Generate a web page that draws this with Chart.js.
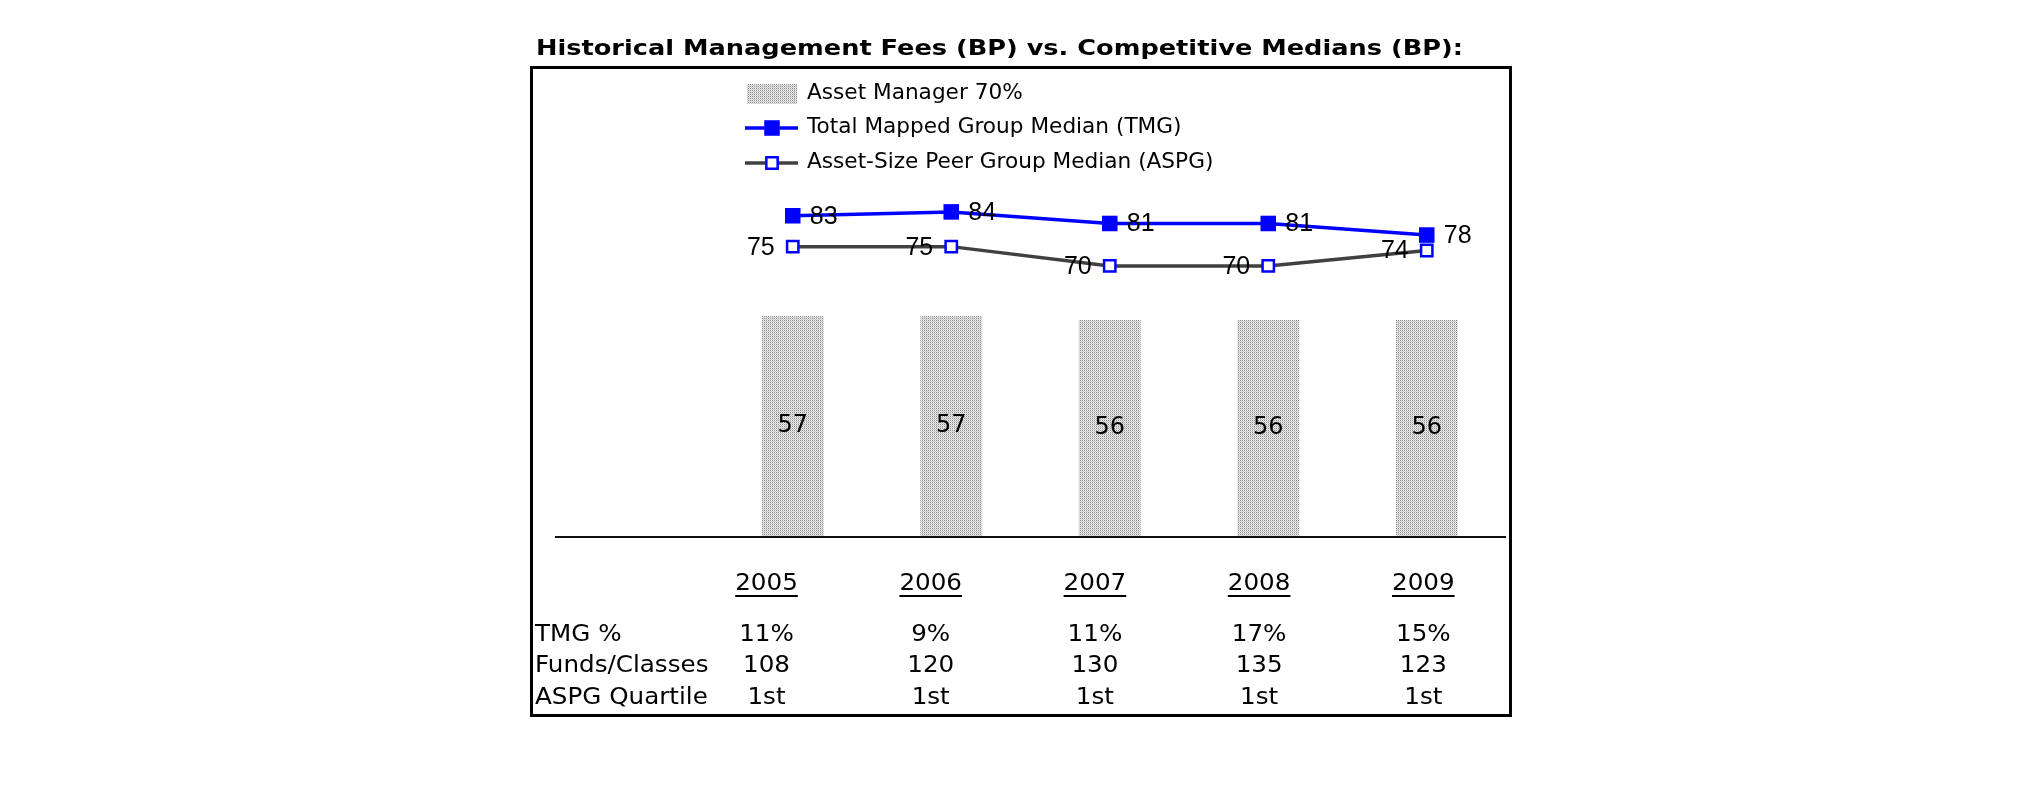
<!DOCTYPE html>
<html>
<head>
<meta charset="utf-8">
<script src="https://cdn.jsdelivr.net/npm/chart.js@4.4.1/dist/chart.umd.min.js"></script>
<style>
    html, body { margin: 0; padding: 0; background: #fff; }
    canvas { display: block; }
</style>
</head>
<body>
<canvas id="chart" width="2025" height="806"></canvas>
<script>
// Data
const years = ["2005", "2006", "2007", "2008", "2009"];
const assetManager = [57, 57, 56, 56, 56];
const tmgMedian = [83, 84, 81, 81, 78];
const aspgMedian = [75, 75, 70, 70, 74];
const tmgPercent = ["11%", "9%", "11%", "17%", "15%"];
const fundsClasses = ["108", "120", "130", "135", "123"];
const aspgQuartile = ["1st", "1st", "1st", "1st", "1st"];
const rowLabels = ["TMG %", "Funds/Classes", "ASPG Quartile"];
const titleText = "Historical Management Fees (BP) vs. Competitive Medians (BP):";

// first category stays empty, the table row labels sit under it
const labels = [""].concat(years);
const pad = (arr) => [null].concat(arr);

// Element
let canvasElement = document.querySelector("#chart");
let ctxMain = canvasElement.getContext("2d");

// stippled grey fill of the bars
const makePattern = () => {
    let c = document.createElement("canvas");
    c.width = 2;
    c.height = 2;
    let g = c.getContext("2d");
    g.fillStyle = "#8a8a8a";
    g.fillRect(0, 0, 1, 1);
    g.fillStyle = "#f0f0f0";
    g.fillRect(1, 0, 1, 1);
    g.fillStyle = "#e6e6e6";
    g.fillRect(0, 1, 1, 1);
    g.fillStyle = "#c8c8c8";
    g.fillRect(1, 1, 1, 1);
    return ctxMain.createPattern(c, "repeat");
}
const barPattern = makePattern();

// text, optionally stretched sideways like the original
const drawText = (ctx, text, x, y, opts) => {
    let align = opts.align || "left";
    let stretch = opts.stretch || 1;
    ctx.save();
    ctx.font = opts.font;
    ctx.fillStyle = opts.color || "#000";
    ctx.textBaseline = "middle";
    ctx.textAlign = "left";
    let w = ctx.measureText(text).width * stretch;
    let left = align === "left" ? x : (align === "right" ? x - w : x - w / 2);
    ctx.translate(left, y);
    ctx.scale(stretch, 1);
    ctx.fillText(text, 0, 0);
    ctx.restore();
    return {left: left, width: w};
}

const drawSquare = (ctx, x, y, radius, fill, stroke, lw) => {
    let s = Math.SQRT1_2 * radius;
    ctx.save();
    ctx.beginPath();
    ctx.rect(x - s, y - s, 2 * s, 2 * s);
    ctx.fillStyle = fill;
    ctx.fill();
    if (lw > 0) {
        ctx.lineWidth = lw;
        ctx.strokeStyle = stroke;
        ctx.stroke();
    }
    ctx.restore();
}

const tableFont = "23px 'DejaVu Sans'";
const tableStretch = 1.07;

const decorPlugin = {
    id: "decor",
    beforeDraw(chart) {
        let ctx = chart.ctx;
        ctx.save();
        ctx.fillStyle = "#fff";
        ctx.fillRect(0, 0, chart.width, chart.height);
        ctx.restore();
    },
    beforeDatasetsDraw(chart) {
        // category axis line
        let ctx = chart.ctx;
        let y0 = chart.scales.y.getPixelForValue(0);
        ctx.save();
        ctx.strokeStyle = "#111";
        ctx.lineWidth = 2;
        ctx.beginPath();
        ctx.moveTo(chart.chartArea.left, y0 + 1);
        ctx.lineTo(chart.chartArea.right, y0 + 1);
        ctx.stroke();
        ctx.restore();
    },
    afterDatasetsDraw(chart) {
        // value labels
        let ctx = chart.ctx;
        chart.data.datasets.forEach((ds, i) => {
            let meta = chart.getDatasetMeta(i);
            meta.data.forEach((el, j) => {
                let v = ds.data[j];
                if (v === null) return;
                if (ds.type === "bar") {
                    drawText(ctx, String(v), el.x, (el.y + el.base) / 2, {font: "24px 'DejaVu Sans'", align: "center"});
                } else if (i === 1) {
                    drawText(ctx, String(v), el.x + 17, el.y + 1, {font: "25px 'Liberation Sans'", align: "left"});
                } else {
                    drawText(ctx, String(v), el.x - 18, el.y + 1, {font: "25px 'Liberation Sans'", align: "right"});
                }
            });
        });
    },
    afterDraw(chart) {
        let ctx = chart.ctx;

        // frame
        ctx.save();
        ctx.strokeStyle = "#000";
        ctx.lineWidth = 3;
        ctx.strokeRect(531.5, 67.5, 979, 648);
        ctx.restore();

        // title
        drawText(ctx, titleText, 536, 49, {font: "bold 22px 'DejaVu Sans'", stretch: 1.165});

        // legend
        let legendY = [94, 128, 163];
        chart.data.datasets.forEach((ds, i) => {
            let y = legendY[i];
            if (ds.type === "bar") {
                ctx.save();
                ctx.fillStyle = ds.backgroundColor;
                ctx.fillRect(747, y - 10, 50, 20);
                ctx.restore();
            } else {
                ctx.save();
                ctx.strokeStyle = ds.borderColor;
                ctx.lineWidth = ds.borderWidth;
                ctx.beginPath();
                ctx.moveTo(745, y);
                ctx.lineTo(798, y);
                ctx.stroke();
                ctx.restore();
                drawSquare(ctx, 772, y, ds.pointRadius, ds.pointBackgroundColor, ds.pointBorderColor, ds.pointBorderWidth);
            }
            drawText(ctx, ds.label, 807, y, {font: "21px 'DejaVu Sans'", stretch: 1.03});
        });

        // table under the axis, columns follow the categories
        let xs = chart.scales.x;
        let first = xs.getPixelForValue(1);
        let colX = (j) => 766.5 + (xs.getPixelForValue(j + 1) - first) * 1.036;
        let rows = [tmgPercent, fundsClasses, aspgQuartile];
        let rowY = [635, 666.5, 698];
        years.forEach((yr, j) => {
            let t = drawText(ctx, yr, colX(j), 584, {font: tableFont, align: "center", stretch: tableStretch});
            ctx.save();
            ctx.fillStyle = "#000";
            ctx.fillRect(t.left, 595, t.width, 2);
            ctx.restore();
        });
        rowLabels.forEach((lab, r) => {
            drawText(ctx, lab, 535, rowY[r], {font: tableFont, stretch: tableStretch});
            rows[r].forEach((val, j) => {
                drawText(ctx, val, colX(j), rowY[r], {font: tableFont, align: "center", stretch: tableStretch});
            });
        });
    }
};

new Chart(canvasElement, {
    data: {
        labels: labels,
        datasets: [
            {
                type: "bar",
                label: "Asset Manager 70%",
                data: pad(assetManager),
                backgroundColor: barPattern,
                borderWidth: 0,
                barPercentage: 0.39,
                categoryPercentage: 1,
                order: 3
            },
            {
                type: "line",
                label: "Total Mapped Group Median (TMG)",
                data: pad(tmgMedian),
                borderColor: "#0000ff",
                borderWidth: 3.5,
                tension: 0,
                pointStyle: "rect",
                pointRadius: 11,
                pointBackgroundColor: "#0000ff",
                pointBorderColor: "#0000ff",
                pointBorderWidth: 0,
                order: 2
            },
            {
                type: "line",
                label: "Asset-Size Peer Group Median (ASPG)",
                data: pad(aspgMedian),
                borderColor: "#404040",
                borderWidth: 3.5,
                tension: 0,
                pointStyle: "rect",
                pointRadius: 8,
                pointBackgroundColor: "#ffffff",
                pointBorderColor: "#0000ff",
                pointBorderWidth: 2.5,
                order: 1
            }
        ]
    },
    options: {
        responsive: false,
        animation: false,
        events: [],
        devicePixelRatio: 1,
        layout: {
            padding: {left: 555, right: 519, top: 73, bottom: 270}
        },
        scales: {
            x: {display: false, offset: true},
            y: {display: false, min: 0, max: 120}
        },
        plugins: {
            legend: {display: false},
            title: {display: false},
            tooltip: {enabled: false}
        }
    },
    plugins: [decorPlugin]
});
</script>
</body>
</html>
